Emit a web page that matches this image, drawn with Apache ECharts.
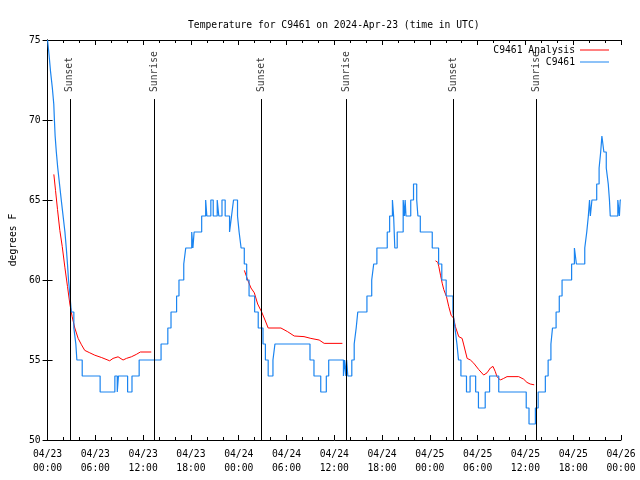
<!DOCTYPE html>
<html><head><meta charset="utf-8">
<script src="https://cdn.jsdelivr.net/npm/echarts@6/dist/echarts.min.js"></script>
<style>html,body{margin:0;padding:0;background:#fff}#c{width:640px;height:480px}</style>
</head><body><div id="c"></div>
<script>
// hours since 04/23 00:00 UTC
const xTickLabels = ['04/23\n00:00','04/23\n06:00','04/23\n12:00','04/23\n18:00','04/24\n00:00','04/24\n06:00','04/24\n12:00','04/24\n18:00','04/25\n00:00','04/25\n06:00','04/25\n12:00','04/25\n18:00','04/26\n00:00'];
const yTicks = [50, 55, 60, 65, 70, 75];

// C9461 observations (value changes, step)
const blueTimes = [0.0,0.2,0.38,0.6,0.78,0.86,0.95,1.1,1.28,1.5,1.72,1.95,2.18,2.35,2.5,2.63,2.82,2.98,3.3,3.55,3.68,4.35,6.6,8.45,8.75,8.9,10.05,10.6,11.5,
 14.25,15.1,15.5,16.2,16.5,17.1,17.35,18.1,18.25,18.4,19.35,19.85,20.0,20.5,20.8,21.3,21.5,21.9,22.3,22.85,23.1,23.35,23.85,24.05,24.3,24.7,25.0,25.3,26.0,26.45,27.05,27.35,27.7,28.3,28.55,32.95,33.45,34.3,35.0,35.3,
 37.15,37.3,37.45,37.55,37.7,38.2,38.5,38.75,38.95,40.1,40.7,40.95,41.35,42.65,42.95,43.3,43.45,43.6,43.9,44.65,44.8,44.9,45.0,45.6,45.95,46.35,46.5,46.8,48.3,49.1,49.5,50.05,50.9,51.15,51.4,51.6,51.9,52.6,53.05,53.75,54.1,54.95,55.5,56.65,
 60.1,60.45,61.25,61.6,62.5,62.85,63.2,63.4,63.85,64.25,64.6,65.8,66.15,66.4,67.45,67.7,67.9,68.05,68.15,68.35,68.95,69.25,69.45,69.6,69.85,70.15,70.4,70.55,70.65,71.6,71.8,71.9,72.0];
const blueTemps = [75,74,73,72,71,70,69,68,67,66,65,64,63,62,61,60,59,58,57,56,55,54,53,54,53,54,53,54,55,
 56,57,58,59,60,61,62,63,62,63,64,65,64,65,64,65,64,65,64,63,64,65,64,63,62,61,60,59,58,57,56,55,54,55,56,55,54,53,54,55,
 54,55,54,55,54,55,56,57,58,59,60,61,62,63,64,65,64,62,63,65,64,65,64,65,66,65,64,63,62,61,60,59,58,57,56,55,54,53,54,53,52,53,54,53,
 52,51,52,53,54,55,56,57,58,59,60,61,62,61,62,63,64,65,64,65,66,67,68,69,68,67,66,65,64,65,64,65,65];

// C9461 Analysis (null = gap)
const redTimes = [0.79,1.0,1.25,1.54,1.84,2.17,2.5,2.8,3.09,3.42,3.84,4.26,4.67,5.3,5.93,6.8,7.8,8.22,8.85,9.48,9.9,10.52,11.14,11.65,13.02,
 13.5,
 24.71,25.13,25.54,25.96,26.38,26.88,27.3,27.7,29.3,30.14,30.97,32.2,33.06,34.1,34.73,37.02,
 40.0,
 48.71,49.0,49.13,49.34,49.55,49.75,50.09,50.38,50.67,51.0,51.21,51.63,52.05,52.26,52.68,53.09,53.51,54.14,54.76,55.18,55.6,55.93,56.22,56.43,56.85,57.27,57.69,59.15,59.78,60.19,60.6,61.1];
const redTemps = [66.6,65.6,64.4,63.1,62.1,60.8,59.6,58.5,57.7,57.0,56.35,55.95,55.6,55.45,55.3,55.15,54.95,55.1,55.2,55.0,55.1,55.2,55.35,55.5,55.5,
 null,
 60.6,60.0,59.5,59.2,58.5,58.0,57.5,57.0,57.0,56.77,56.5,56.46,56.35,56.25,56.04,56.04,
 null,
 61.2,61.1,60.83,60.3,59.8,59.4,58.96,58.33,57.8,57.6,57.08,56.46,56.35,55.94,55.1,55.0,54.8,54.4,54.06,54.2,54.5,54.6,54.27,53.96,53.75,53.85,53.96,53.96,53.8,53.6,53.5,53.45];

const eventTimes = [2.79, 13.44, 26.88, 37.5, 50.93, 61.36];
const eventNames = ['Sunset','Sunrise','Sunset','Sunrise','Sunset','Sunrise'];
const eventLineTop = 71.31;
const eventLabelBase = 71.75;

const FONT = 'DejaVu Sans Mono';
const zip = (a, b) => a.map((t, i) => [t, b[i]]);

const chart = echarts.init(document.getElementById('c'), null, {renderer: 'canvas'});
const axisCommon = {
  axisLine: {show: true, lineStyle: {color: '#000', width: 1}},
  splitLine: {show: false}
};
chart.setOption({
  animation: false,
  backgroundColor: '#fff',
  textStyle: {fontFamily: FONT},
  title: {
    text: 'Temperature for C9461 on 2024-Apr-23 (time in UTC)',
    left: 183, top: 14,
    textStyle: {fontFamily: FONT, fontSize: 9.7, fontWeight: 'normal', color: '#000', lineHeight: 12}
  },
  legend: [
    {data: ['C9461 Analysis'], right: 31, top: 44, orient: 'vertical', align: 'right', padding: 0,
     icon: 'rect', itemWidth: 29, itemHeight: 1,
     textStyle: {fontFamily: FONT, fontSize: 9.7, color: '#000', lineHeight: 12}},
    {data: ['C9461'], right: 31, top: 56, orient: 'vertical', align: 'right', padding: 0,
     icon: 'rect', itemWidth: 29, itemHeight: 1,
     textStyle: {fontFamily: FONT, fontSize: 9.7, color: '#000', lineHeight: 12}}
  ],
  grid: {left: 46, right: 19, top: 40, bottom: 40, containLabel: false},
  xAxis: [
    Object.assign({}, axisCommon, {
      type: 'value', min: 0, max: 72, interval: 6, position: 'bottom',
      axisTick: {show: true, inside: true, length: 5, lineStyle: {color: '#000'}},
      minorTick: {show: true, splitNumber: 3, length: 3, lineStyle: {color: '#000'}},
      axisLabel: {margin: 7, color: '#000', fontFamily: FONT, fontSize: 9.7, lineHeight: 14,
        formatter: v => xTickLabels[Math.round(v / 6)] || ''}
    }),
    Object.assign({}, axisCommon, {
      type: 'value', min: 0, max: 72, interval: 6, position: 'top',
      axisTick: {show: true, inside: true, length: 5, lineStyle: {color: '#000'}},
      minorTick: {show: true, splitNumber: 3, length: 3, lineStyle: {color: '#000'}},
      axisLabel: {show: false}
    })
  ],
  yAxis: [
    Object.assign({}, axisCommon, {
      type: 'value', min: yTicks[0], max: yTicks[yTicks.length - 1], interval: 5, position: 'left',
      name: 'degrees F', nameLocation: 'middle', nameRotate: 90, nameGap: 29,
      nameTextStyle: {fontFamily: FONT, fontSize: 9.7, color: '#000'},
      axisTick: {show: true, inside: true, length: 5, lineStyle: {color: '#000'}},
      axisLabel: {margin: 7, color: '#000', fontFamily: FONT, fontSize: 9.7}
    }),
    Object.assign({}, axisCommon, {
      type: 'value', min: yTicks[0], max: yTicks[yTicks.length - 1], interval: 5, position: 'right',
      axisTick: {show: true, inside: true, length: 5, lineStyle: {color: '#000'}},
      axisLabel: {show: false}
    })
  ],
  series: [
    {
      name: 'C9461 Analysis', type: 'line', data: zip(redTimes, redTemps),
      showSymbol: false, connectNulls: false, color: '#ff0000',
      lineStyle: {color: '#ff0000', width: 1}, z: 3
    },
    {
      name: 'C9461', type: 'line', step: 'end', data: zip(blueTimes, blueTemps),
      showSymbol: false, color: '#1a84f0',
      lineStyle: {color: '#1a84f0', width: 1.2}, z: 4
    },
    {
      name: 'events', type: 'scatter', symbolSize: 2,
      itemStyle: {color: 'rgba(255,255,255,0)'},
      data: eventTimes.map((t, i) => ({value: [t, eventLabelBase], name: eventNames[i]})),
      label: {show: true, position: 'inside', rotate: 90, align: 'left', verticalAlign: 'middle',
        formatter: p => p.name, color: '#000', fontFamily: FONT, fontSize: 9.7},
      labelLayout: {hideOverlap: false},
      markLine: {
        silent: true, symbol: 'none', label: {show: false},
        lineStyle: {color: '#000', width: 1, type: 'solid'},
        data: eventTimes.map(t => [{coord: [t, yTicks[0]]}, {coord: [t, eventLineTop]}])
      },
      z: 5
    }
  ]
});
</script>
</body></html>
